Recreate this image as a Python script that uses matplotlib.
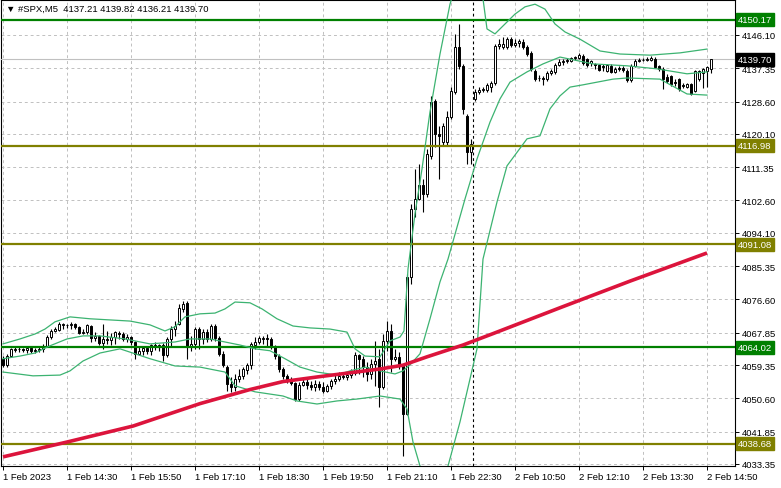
import numpy as np
import matplotlib.pyplot as plt
from matplotlib.transforms import blended_transform_factory

# 5-minute candles, bar 0 = 1 Feb 13:10
opens = [
    4061.0, 4059.4, 4061.7, 4063.3, 4063.6, 4063.6, 4063.3, 4063.8, 4063.1, 4063.3,
    4063.6, 4064.4, 4066.7, 4068.3, 4068.6, 4069.9, 4069.9, 4069.9, 4070.2, 4069.4,
    4067.8, 4068.0, 4069.6, 4066.5, 4067.0, 4065.2, 4066.2, 4066.0, 4066.7, 4067.8,
    4067.5, 4066.2, 4066.7, 4065.4, 4062.3, 4063.1, 4063.8, 4063.1, 4064.6, 4064.1,
    4064.6, 4062.0, 4066.2, 4068.8, 4070.2, 4074.1, 4075.7, 4064.1, 4064.9, 4068.8,
    4066.2, 4068.0, 4066.2, 4069.6, 4066.5, 4062.3, 4058.8, 4054.4, 4053.6, 4055.7,
    4056.5, 4058.1, 4059.4, 4064.6, 4065.4, 4066.2, 4066.5, 4066.2, 4064.1, 4061.7,
    4058.3, 4056.5, 4055.4, 4054.6, 4050.4, 4054.1, 4054.9, 4054.1, 4053.6, 4054.4,
    4053.6, 4052.5, 4053.9, 4055.2, 4055.7, 4056.5, 4056.2, 4056.7, 4057.3, 4062.0,
    4061.0, 4058.8, 4057.0, 4059.6, 4061.0, 4053.6, 4065.7, 4068.3, 4061.0, 4061.5,
    4059.1, 4046.5, 4082.5, 4100.4, 4103.0, 4106.7, 4104.3, 4114.3, 4128.8, 4120.1,
    4118.0, 4118.0, 4124.5, 4131.1, 4142.9, 4138.0, 4124.8, 4115.4, 4129.3, 4131.1,
    4131.6, 4131.6, 4132.4, 4133.5, 4143.2, 4142.9, 4142.9, 4145.0, 4143.5, 4144.0,
    4144.3, 4142.9, 4141.4, 4136.6, 4134.8, 4134.8, 4134.5, 4136.1, 4136.4, 4138.2,
    4139.0, 4139.3, 4139.3, 4140.1, 4140.1, 4140.6, 4139.8, 4138.7, 4138.5, 4138.2,
    4138.0, 4136.6, 4138.0, 4136.4, 4137.4, 4137.4, 4136.6, 4134.3, 4138.0, 4139.3,
    4139.5, 4139.5, 4139.5, 4139.8, 4138.0, 4137.2, 4135.1, 4135.3, 4133.7, 4134.5,
    4133.0, 4132.4, 4133.2, 4131.4, 4134.5, 4136.1, 4136.6, 4137.21,
]
highs = [
    4061.7, 4062.3, 4063.8, 4064.1, 4064.1, 4063.8, 4064.4, 4064.1, 4063.8, 4064.1,
    4064.9, 4067.3, 4068.8, 4069.4, 4070.7, 4070.4, 4070.2, 4070.7, 4070.4, 4069.6,
    4068.8, 4070.2, 4069.9, 4068.0, 4067.3, 4070.2, 4068.3, 4067.8, 4068.3, 4068.3,
    4068.0, 4067.5, 4067.0, 4065.7, 4064.1, 4064.4, 4064.4, 4064.9, 4065.4, 4064.9,
    4065.2, 4066.7, 4069.6, 4070.9, 4075.4, 4076.2, 4076.2, 4067.0, 4069.4, 4069.4,
    4068.8, 4068.8, 4070.2, 4070.2, 4067.0, 4063.1, 4059.4, 4056.2, 4057.0, 4058.3,
    4058.8, 4059.9, 4065.4, 4066.7, 4067.0, 4067.0, 4067.5, 4066.7, 4064.6, 4062.3,
    4058.8, 4057.0, 4056.2, 4054.9, 4054.9, 4056.2, 4055.7, 4055.2, 4055.4, 4055.2,
    4054.9, 4054.4, 4055.7, 4056.7, 4057.5, 4057.5, 4057.5, 4058.3, 4062.8, 4062.3,
    4061.7, 4060.2, 4061.0, 4065.7, 4063.6, 4067.5, 4070.9, 4070.2, 4063.6, 4062.8,
    4059.6, 4083.3, 4101.7, 4110.9, 4112.2, 4108.3, 4116.1, 4130.1, 4129.3, 4122.2,
    4123.0, 4126.1, 4132.4, 4146.4, 4149.0, 4138.5, 4125.3, 4118.8, 4131.9, 4132.4,
    4132.4, 4133.5, 4134.0, 4143.7, 4145.0, 4145.6, 4145.6, 4145.6, 4145.0, 4145.0,
    4145.0, 4143.5, 4141.9, 4137.2, 4135.6, 4135.3, 4136.6, 4137.2, 4138.7, 4139.8,
    4139.8, 4140.1, 4140.3, 4140.6, 4141.4, 4141.1, 4140.1, 4139.5, 4138.7, 4138.5,
    4138.5, 4138.5, 4138.5, 4137.7, 4138.0, 4138.0, 4137.2, 4138.5, 4139.8, 4140.1,
    4140.1, 4140.3, 4140.6, 4140.3, 4138.2, 4137.7, 4135.9, 4135.6, 4134.5, 4134.8,
    4133.5, 4133.5, 4133.5, 4136.9, 4136.9, 4137.4, 4138.0, 4139.82,
]
lows = [
    4058.8, 4058.8, 4061.5, 4062.8, 4062.8, 4062.8, 4062.5, 4062.5, 4062.5, 4062.8,
    4062.8, 4064.1, 4066.2, 4068.0, 4068.3, 4068.8, 4069.1, 4068.8, 4068.8, 4067.5,
    4067.5, 4067.5, 4065.4, 4065.7, 4064.6, 4063.6, 4064.9, 4064.6, 4064.9, 4066.2,
    4065.7, 4065.4, 4064.6, 4061.0, 4062.0, 4062.0, 4062.3, 4062.0, 4063.3, 4063.1,
    4060.4, 4061.5, 4064.4, 4067.0, 4069.9, 4073.3, 4061.0, 4063.1, 4063.6, 4063.6,
    4064.9, 4065.4, 4065.7, 4065.7, 4061.7, 4058.8, 4052.5, 4052.3, 4052.5, 4054.9,
    4055.7, 4057.0, 4058.3, 4063.6, 4064.9, 4064.9, 4064.4, 4063.6, 4061.0, 4057.5,
    4055.7, 4054.6, 4054.1, 4049.9, 4049.9, 4053.9, 4053.1, 4052.8, 4052.5, 4052.8,
    4052.0, 4052.3, 4053.1, 4054.4, 4055.2, 4055.7, 4055.4, 4056.0, 4056.7, 4057.0,
    4056.2, 4055.2, 4055.7, 4053.9, 4048.3, 4053.1, 4063.1, 4057.5, 4060.4, 4058.3,
    4035.5, 4046.2, 4080.7, 4098.3, 4102.6, 4099.6, 4103.5, 4113.5, 4116.7, 4108.3,
    4116.9, 4117.2, 4124.0, 4130.6, 4137.2, 4125.3, 4112.2, 4112.2, 4128.8, 4130.6,
    4131.1, 4131.1, 4131.1, 4133.0, 4142.4, 4142.4, 4142.4, 4142.9, 4142.9, 4142.9,
    4142.4, 4140.6, 4136.6, 4134.0, 4134.0, 4133.0, 4134.0, 4135.6, 4135.9, 4138.0,
    4138.2, 4138.7, 4139.0, 4139.5, 4139.8, 4138.2, 4137.7, 4138.0, 4137.2, 4136.6,
    4136.6, 4136.4, 4136.1, 4136.1, 4136.6, 4136.4, 4133.7, 4133.7, 4137.7, 4139.0,
    4139.3, 4139.3, 4139.3, 4137.4, 4136.6, 4131.9, 4133.5, 4132.7, 4132.7, 4131.4,
    4132.2, 4132.2, 4130.3, 4131.1, 4134.0, 4132.2, 4132.4, 4136.21,
]
closes = [
    4059.4, 4061.7, 4063.6, 4063.6, 4063.5, 4063.3, 4063.8, 4063.1, 4063.3, 4063.6,
    4064.4, 4066.7, 4068.3, 4068.8, 4070.2, 4070.0, 4069.8, 4070.2, 4069.4, 4067.8,
    4068.0, 4069.9, 4066.5, 4067.0, 4065.2, 4066.2, 4066.0, 4066.7, 4068.0, 4067.5,
    4066.2, 4066.7, 4065.4, 4062.3, 4063.1, 4063.8, 4063.1, 4064.6, 4064.1, 4064.6,
    4062.0, 4066.2, 4068.8, 4069.6, 4074.4, 4075.4, 4064.1, 4064.9, 4068.8, 4066.2,
    4068.0, 4066.2, 4069.6, 4066.5, 4062.3, 4059.4, 4054.4, 4053.6, 4055.7, 4056.5,
    4058.3, 4059.4, 4064.9, 4065.4, 4066.5, 4066.5, 4066.2, 4064.1, 4061.7, 4058.3,
    4056.5, 4055.4, 4054.6, 4050.4, 4054.1, 4054.9, 4054.1, 4053.6, 4054.4, 4053.6,
    4052.5, 4053.9, 4055.2, 4055.7, 4056.5, 4056.2, 4056.7, 4057.3, 4062.0, 4061.0,
    4058.8, 4057.0, 4059.6, 4060.4, 4053.6, 4065.7, 4068.3, 4061.0, 4061.5, 4059.1,
    4046.5, 4082.5, 4100.4, 4103.0, 4106.7, 4104.3, 4114.8, 4128.5, 4120.1, 4119.6,
    4122.2, 4124.5, 4131.4, 4142.9, 4138.0, 4126.7, 4115.4, 4117.5, 4131.1, 4131.6,
    4131.9, 4133.0, 4133.5, 4143.2, 4143.7, 4143.8, 4145.0, 4143.5, 4144.0, 4144.5,
    4142.9, 4141.1, 4137.2, 4134.5, 4134.7, 4134.5, 4136.1, 4136.6, 4138.2, 4139.0,
    4139.3, 4139.5, 4140.1, 4140.3, 4140.8, 4138.7, 4138.2, 4139.3, 4138.2, 4136.9,
    4137.7, 4138.2, 4136.4, 4137.2, 4137.2, 4136.9, 4134.3, 4138.0, 4139.3, 4139.5,
    4139.6, 4139.8, 4140.1, 4137.7, 4137.2, 4134.5, 4134.0, 4133.2, 4133.5, 4131.9,
    4132.7, 4133.2, 4130.6, 4136.6, 4136.6, 4137.2, 4137.7, 4139.70,
]

# Bollinger bands, sampled along the bars
upper_bars = [0, 4.25, 8, 10.5, 13, 16.75, 21.75, 26.75, 31.75, 36.75, 40.5, 43, 45.5,
              49.25, 53, 55.5, 58, 61.75, 64.75, 68.5, 72.5, 76.75, 81.75, 86, 88, 90.5,
              94.25, 96.75, 99.25, 100.25, 101.25, 103, 104.75, 106.75, 109.25, 111.75,
              114.25, 116.75, 118.75, 120, 121, 123, 125.5, 128, 130.5, 133, 135.5, 138,
              140.5, 144.25, 149.25, 154.25, 161.75, 169.25, 176]
upper_vals = [4064.9, 4066.2, 4067.5, 4068.8, 4070.7, 4072.0, 4071.5, 4071.2, 4070.9,
              4069.9, 4068.3, 4069.4, 4072.0, 4072.8, 4073.0, 4074.1, 4075.9, 4075.7,
              4074.1, 4071.5, 4069.6, 4069.1, 4068.8, 4068.0, 4063.6, 4061.7, 4061.5,
              4065.7, 4066.7, 4068.3, 4084.6, 4099.1, 4110.9, 4125.9, 4141.1, 4154.2,
              4163.0, 4166.0, 4160.0, 4155.6, 4147.7, 4146.4, 4149.0, 4151.6, 4153.5,
              4154.2, 4152.9, 4149.0, 4146.9, 4145.0, 4141.9, 4141.1, 4140.8, 4141.4,
              4142.4]

middle_bars = [0, 4.25, 8, 11.75, 16, 20, 24.25, 30.5, 36.75, 43, 46.75, 51.75, 55.5,
               59.25, 63, 66.75, 70.5, 74.25, 78.5, 83.5, 86.75, 90.5, 94.25, 98, 100,
               101.75, 104.25, 106.75, 109.25, 111.25, 115.5, 118.5, 121.75, 124.25,
               126.75, 131, 135, 139.25, 147.5, 156, 163.5, 171, 176]
middle_vals = [4061.0, 4061.7, 4062.5, 4064.4, 4066.2, 4067.0, 4067.0, 4066.2, 4064.9,
               4065.4, 4066.2, 4066.2, 4065.4, 4064.6, 4063.6, 4063.1, 4061.0, 4058.8,
               4057.5, 4056.7, 4057.8, 4058.8, 4057.8, 4057.0, 4057.8, 4059.4, 4062.3,
               4071.5, 4081.2, 4087.2, 4103.0, 4113.5, 4123.2, 4129.3, 4133.7, 4136.4,
               4138.5, 4140.3, 4138.5, 4138.0, 4137.2, 4135.9, 4136.4]

lower_bars = [0, 7.5, 14.25, 16.75, 20, 24.25, 29.25, 33, 36.75, 43, 49.25, 55.5, 58, 63,
              70, 73.5, 78.5, 83.5, 88.5, 94.25, 99.25, 101, 102.5, 104.25, 107.75,
              111.25, 114.25, 118.5, 120, 123.5, 126, 131, 134.25, 136.75, 139.25,
              141.75, 145, 152.5, 156, 164.25, 171, 176]
lower_vals = [4057.5, 4056.5, 4056.7, 4057.8, 4060.4, 4062.5, 4063.6, 4062.3, 4061.0,
              4059.1, 4058.8, 4057.5, 4053.9, 4052.3, 4051.2, 4049.9, 4049.1, 4049.9,
              4050.4, 4051.2, 4050.4, 4047.8, 4039.1, 4032.8, 4026.0, 4032.8, 4044.4,
              4063.6, 4087.2, 4102.2, 4111.7, 4118.8, 4119.6, 4126.7, 4130.1, 4132.4,
              4133.0, 4134.5, 4134.8, 4134.5, 4130.6, 4130.3]

# slow moving average (red)
ma_bars = [0, 16, 32.5, 49.25, 61.75, 70, 78.5, 86.75, 94.25, 100, 106, 115, 122.5,
           139.25, 156.75, 176]
ma_vals = [4035.2, 4039.1, 4043.3, 4049.2, 4052.9, 4055.0, 4056.2, 4057.3, 4058.3,
           4059.3, 4061.5, 4064.6, 4067.6, 4074.4, 4081.4, 4088.8]

price_ticks = [4146.10, 4137.35, 4128.60, 4120.10, 4111.35, 4102.60, 4094.10,
               4085.35, 4076.60, 4067.85, 4059.35, 4050.60, 4041.85, 4033.35]
time_labels = ["1 Feb 2023", "1 Feb 14:30", "1 Feb 15:50", "1 Feb 17:10", "1 Feb 18:30",
               "1 Feb 19:50", "1 Feb 21:10", "1 Feb 22:30", "2 Feb 10:50", "2 Feb 12:10",
               "2 Feb 13:30", "2 Feb 14:50"]
label_bars = [0, 16, 32, 48, 64, 80, 96, 112, 128, 144, 160, 176]

green_levels = [4150.17, 4064.02]
olive_levels = [4116.98, 4091.08, 4038.68]
last_price = 4139.70
day_break = 117.5

FONT = ["Liberation Sans", "DejaVu Sans"]
FS = 6.8

fig = plt.figure(figsize=(7.81, 4.89), dpi=100)
ax = fig.add_axes([1 / 781, 22 / 489, 734 / 781, 466 / 489])
ax.set_xlim(-0.5, 183)
ax.set_ylim(4032.8, 4155.3)

# grid
ax.set_yticks(price_ticks)
ax.set_xticks(label_bars)
ax.grid(True, color="#c0c0c0", linestyle=(0, (3, 3)), linewidth=0.7)
ax.set_axisbelow(True)

# candles
o = np.array(opens)
h = np.array(highs)
l = np.array(lows)
c = np.array(closes)
x = np.arange(len(o))
up = c >= o
ax.vlines(x, l, h, color="black", linewidth=0.8, zorder=4)
body = np.maximum(np.abs(c - o), 0.12)
ax.bar(x, body, bottom=np.minimum(o, c), width=0.62,
       color=np.where(up, "white", "black"), edgecolor="black",
       linewidth=0.7, zorder=5)

# levels
for p in green_levels:
    ax.axhline(p, color="#008000", linewidth=1.6, zorder=6)
for p in olive_levels:
    ax.axhline(p, color="#808000", linewidth=1.6, zorder=6)
ax.axhline(last_price, color="#c0c0c0", linewidth=0.8, zorder=3)
ax.axvline(day_break, color="black", linestyle=(0, (2.5, 2.5)), linewidth=0.8, zorder=3)

# indicators
band_col = "#3cb371"
ax.plot(upper_bars, upper_vals, color=band_col, linewidth=0.9, zorder=7)
ax.plot(middle_bars, middle_vals, color=band_col, linewidth=0.9, zorder=7)
ax.plot(lower_bars, lower_vals, color=band_col, linewidth=0.9, zorder=7)
ax.plot(ma_bars, ma_vals, color="#dc143c", linewidth=2.6, zorder=7,
        solid_capstyle="butt")

# axes styling
ax.yaxis.tick_right()
ax.set_yticklabels([f"{v:.2f}" for v in price_ticks], fontsize=FS, family=FONT)
ax.set_xticklabels(time_labels, fontsize=FS, family=FONT, ha="left")
ax.tick_params(axis="y", length=3, width=0.7, pad=2)
ax.tick_params(axis="x", length=3, width=0.7, pad=1.5)
for s in ax.spines.values():
    s.set_color("black")
    s.set_linewidth(0.8)

# price tags on the right axis
tr = blended_transform_factory(ax.transAxes, ax.transData)
tags = [(p, "#008000") for p in green_levels] + [(p, "#808000") for p in olive_levels]
tags.append((last_price, "black"))
for p, col in tags:
    ax.text(1.004, p, f"{p:.2f}", transform=tr, color="white", fontsize=FS,
            family=FONT, va="center", ha="left", clip_on=False, zorder=10,
            bbox=dict(boxstyle="square,pad=0.22", fc=col, ec=col))

fig.text(6 / 781, 1 - 9 / 489, "\u25bc #SPX,M5  4137.21 4139.82 4136.21 4139.70",
         fontsize=FS, family=FONT, va="center", ha="left")

fig.savefig("out.png", dpi=100)
